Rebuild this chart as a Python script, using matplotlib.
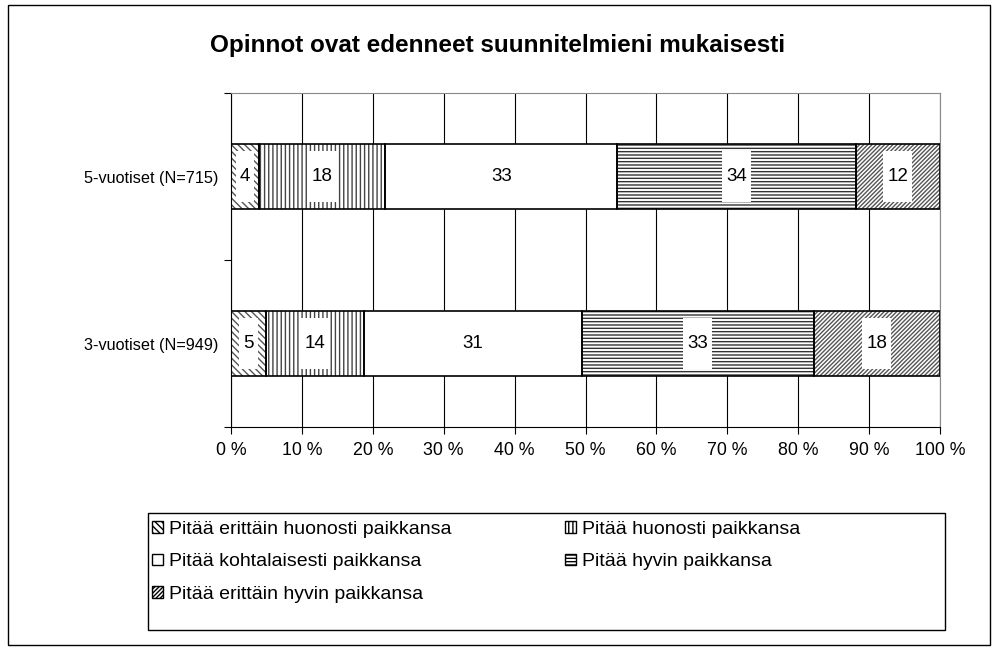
import matplotlib.pyplot as plt
from matplotlib.patches import Patch, Rectangle
import numpy as np

plt.rcParams['font.family'] = ['Liberation Sans', 'DejaVu Sans']
plt.rcParams['hatch.linewidth'] = 1.0

groups = ['3-vuotiset (N=949)', '5-vuotiset (N=715)']
categories = ['Pitää erittäin huonosti paikkansa', 'Pitää huonosti paikkansa',
              'Pitää kohtalaisesti paikkansa', 'Pitää hyvin paikkansa',
              'Pitää erittäin hyvin paikkansa']
vals_3v = [5, 14, 31, 33, 18]
vals_5v = [4, 18, 33, 34, 12]
hatches = ['\\\\\\\\\\', '||||', '', '-----', '////////']
hatch_cols = ['#555555', '#444444', 'black', '#333333', '#555555']

data = np.array([vals_3v, vals_5v], dtype=float)
pct = data / data.sum(axis=1, keepdims=True) * 100

fig = plt.figure(figsize=(10, 6.55), dpi=100)
fig.patches.append(Rectangle((0.008, 0.015), 0.982, 0.977, transform=fig.transFigure,
                             fill=False, edgecolor='black', linewidth=1))
ax = fig.add_axes([0.231, 0.348, 0.709, 0.510])

ypos = [0.5, 1.5]
left = np.zeros(2)
for j, cat in enumerate(categories):
    ax.barh(ypos, pct[:, j], left=left, height=0.39, color='white',
            edgecolor=hatch_cols[j], hatch=hatches[j], linewidth=0, zorder=2)
    ax.barh(ypos, pct[:, j], left=left, height=0.39, color='none',
            edgecolor='black', linewidth=1.2, zorder=3)
    for i in range(2):
        ax.text(left[i] + pct[i, j] / 2, ypos[i], '\n' + str(int(data[i, j])) + '\n',
                ha='center', va='center', fontsize=13.5, zorder=4, linespacing=0.68,
                bbox=dict(facecolor='white', edgecolor='none', pad=3))
    left += pct[:, j]

ax.set_xlim(0, 100)
ax.set_ylim(0, 2)
ax.set_xticks(np.arange(0, 101, 10))
ax.set_xticklabels([f'{v} %' for v in range(0, 101, 10)], fontsize=12.8)
ax.set_yticks([0, 1, 2])
ax.set_yticklabels([])
ax.set_yticks(ypos, minor=True)
ax.set_yticklabels(groups, minor=True, fontsize=11.7)
ax.tick_params(axis='y', which='minor', length=0, pad=9)
ax.tick_params(axis='y', which='major', length=5, direction='out')
ax.tick_params(axis='x', length=5, direction='out', pad=6)
ax.xaxis.grid(True, color='black', linewidth=0.8, zorder=0)
ax.set_axisbelow(True)
ax.spines['top'].set_color('#888888')
ax.spines['right'].set_color('#888888')

fig.text(0.498, 0.931, 'Opinnot ovat edenneet suunnitelmieni mukaisesti',
         ha='center', va='center', fontsize=17.5, fontweight='bold')

# legend frame drawn separately so the columns can sit where they do in the original
fig.patches.append(Rectangle((0.148, 1 - 630 / 655), 0.797, 117 / 655,
                             transform=fig.transFigure, fill=False,
                             edgecolor='black', linewidth=1))
handles = [Patch(facecolor='white', edgecolor='black', hatch=hatches[j], label=categories[j])
           for j in range(5)]
order = [0, 2, 4, 1, 3]
leg = fig.legend([handles[k] for k in order], [categories[k] for k in order],
                 ncol=2, loc='upper left', bbox_to_anchor=(0.152, 0.205),
                 fontsize=14, frameon=False, handlelength=0.55, handleheight=0.55,
                 handletextpad=0.3, labelspacing=0.81, borderpad=0, borderaxespad=0,
                 columnspacing=5.86)

fig.savefig('out.png', dpi=100)
